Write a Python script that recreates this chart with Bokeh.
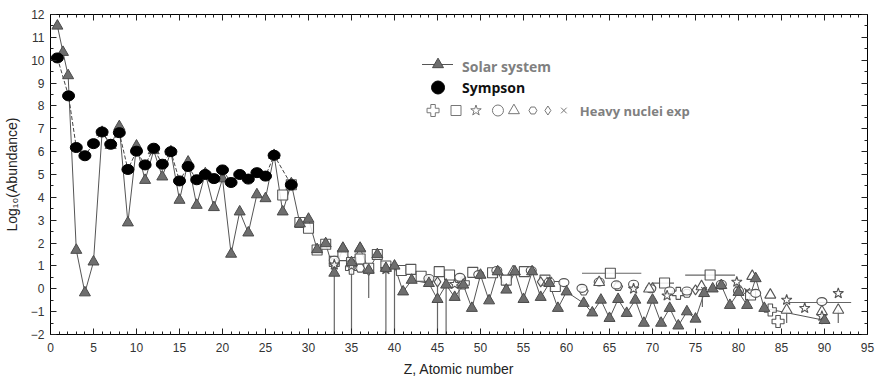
from bokeh.plotting import figure
from bokeh.models import Range1d, LinearAxis, Label, CustomJSTickFormatter, SingleIntervalTicker
from bokeh.embed import file_html
from bokeh.resources import INLINE
from bokeh.core.properties import value

# ---------------- data ----------------
solar_z = [0.8, 1.45, 2.05, 3, 4, 5, 6, 7, 8, 9, 10, 11, 12, 13, 14, 15, 16, 17, 18, 19, 20,
           21, 22, 23, 24, 25, 26, 27, 28, 29, 30, 31, 32, 33, 34, 35, 36, 37, 38, 39, 40,
           41, 42, 44, 45, 46, 47, 48, 49, 50, 51, 52, 53, 54, 55, 56, 57, 58, 59, 60,
           62, 63, 64, 65, 66, 67, 68, 69, 70, 71, 72, 73, 74, 75, 76, 77, 78, 79, 80,
           81, 82, 83, 90]
solar_v = [11.5, 10.35, 9.33, 1.69, -0.17, 1.18, 6.85, 6.28, 7.1, 2.89, 6.25, 4.75, 6.05, 4.9,
           6.0, 3.88, 5.55, 3.66, 5.04, 3.56, 4.82, 1.52, 3.37, 2.45, 4.12, 3.95, 5.84, 3.37,
           4.6, 2.85, 3.05, 1.72, 1.98, 0.69, 1.78, 1.15, 1.78, 0.82, 1.5, 0.9, 1.0,
           -0.13, 0.38, 0.24, -0.46, 0.17, -0.37, 0.17, -0.85, 0.6, -0.52, 0.75, -0.05, 0.75,
           -0.46, 0.75, -0.37, 0.24, -0.85, -0.13, -0.63, -1.05, -0.49, -1.29, -0.46, -1.07,
           -0.49, -1.5, -0.49, -1.5, -0.85, -1.62, -1.0, -1.32, -0.2, 0.0, 0.15, -0.72, -0.15,
           -0.72, 0.45, -0.85, -1.38]

sympson_z = [0.8, 2.1, 3, 4, 5, 6, 7, 8, 9, 10, 11, 12, 13, 14, 15, 16, 17, 18, 19, 20,
             21, 22, 23, 24, 25, 26, 28]
sympson_v = [10.1, 8.44, 6.18, 5.82, 6.35, 6.86, 6.32, 6.83, 5.22, 6.02, 5.42, 6.15, 5.45,
             6.0, 4.72, 5.35, 4.77, 5.0, 4.82, 5.2, 4.65, 5.0, 4.8, 5.08, 4.93, 5.84, 4.55]

hn_plus_z = [35, 48, 73, 83.7, 84.6]
hn_plus_v = [0.9, 0.25, -0.2, -0.93, -1.43]

hn_square_z = [27, 28, 29, 30, 31, 32, 33, 34, 35, 36, 37, 38, 39, 40.8, 41.9, 43.1, 45.2,
               46.4, 49.1, 51.4, 53, 55.1, 57.5, 58.7, 65.1, 71.4, 76.7, 81.4]
hn_square_v = [4.1, 4.55, 2.9, 2.65, 1.7, 1.95, 1.2, 1.45, 1.15, 1.3, 0.9, 1.5, 1.0, 0.8,
               0.85, 0.55, 0.75, 0.6, 0.72, 0.7, 0.38, 0.75, 0.38, 0.1, 0.68, 0.25, 0.6, -0.27]

hn_star_z = [33, 35, 39, 47, 67.8, 71.7, 79.8, 85.6, 87.7, 89.7, 91.6]
hn_star_v = [1.05, 1.0, 0.85, 0.2, 0.0, -0.3, 0.3, -0.49, -0.85, -1.2, -0.2]

hn_circle_z = [33, 35, 44, 47.6, 49.8, 51.9, 55.9, 58, 59.7, 61.8, 63.8, 65.8, 67.8, 69.8,
               72, 74, 78, 80, 82, 89.7]
hn_circle_v = [1.25, 1.1, 0.45, 0.5, 0.62, 0.8, 0.8, 0.3, 0.27, 0.02, 0.3, 0.17, 0.2, 0.0,
               -0.1, -0.1, 0.2, -0.1, -0.2, -0.56]

hn_tri_z = [34, 36, 53.8, 63.8, 69.6, 75.7, 81.6, 83.7, 85.6, 89.7, 91.6]
hn_tri_v = [1.75, 1.75, 0.75, 0.28, 0.0, 0.1, 0.55, -0.27, -0.93, -1.0, -0.93]

hn_hex_z = [28, 33, 36, 44, 62, 66, 74, 78, 80]
hn_hex_v = [4.5, 1.15, 0.9, 0.35, -0.1, 0.1, -0.2, 0.15, -0.05]

hn_diamond_z = [37, 45, 57, 70, 75]
hn_diamond_v = [0.8, 0.3, 0.3, 0.05, -0.05]

hn_x_z = [39.8, 58, 76, 81]
hn_x_v = [0.95, 0.4, -0.05, -0.1]

# error bars
verr_z = [33, 35, 37, 39, 40, 45, 46, 47.5, 75.8, 85.6, 89.7, 91.6]
verr_top = [0.7, 1.0, 0.8, 0.9, 0.9, 0.4, 0.3, 0.3, -0.2, -0.93, -1.0, -0.93]
verr_bot = [-2, -2, -0.4, -2, -2, -2, -2, -0.5, -0.8, -1.5, -1.55, -1.5]

herr_v = [0.68, 0.25, 0.6, -0.6]
herr_lo = [61.8, 70.0, 73.8, 85.8]
herr_hi = [68.7, 72.5, 79.6, 93.1]

# ---------------- figure ----------------
W, H = 876, 379
ML, MR, MT, MB = 49, 9, 14, 45
X0, X1, Y0, Y1 = 0, 95, -2, 12

p = figure(width=W, height=H, output_backend="svg", toolbar_location=None,
           x_range=Range1d(X0, X1), y_range=Range1d(Y0, Y1),
           min_border_left=ML, min_border_right=MR, min_border_top=MT, min_border_bottom=MB)
p.xgrid.visible = False
p.ygrid.visible = False
p.outline_line_color = "black"
p.outline_line_width = 1
p.background_fill_color = "white"
p.border_fill_color = "white"

FONT = "Liberation Sans"
TICK_COLOR = "#333333"

def style_axis(ax, labels=True):
    ax.axis_line_color = "black"
    ax.major_tick_in = 6
    ax.major_tick_out = 0
    ax.minor_tick_in = 3
    ax.minor_tick_out = 0
    ax.major_tick_line_color = "#222222"
    ax.minor_tick_line_color = "#222222"
    if labels:
        ax.major_label_text_font = FONT
        ax.major_label_text_font_size = "12px"
        ax.major_label_text_color = TICK_COLOR
    else:
        ax.formatter = CustomJSTickFormatter(code="return ''")
        ax.major_label_text_font_size = "1px"
        ax.major_label_standoff = 0

p.xaxis.ticker = SingleIntervalTicker(interval=5, num_minor_ticks=5)
p.yaxis.ticker = SingleIntervalTicker(interval=1, num_minor_ticks=2)
style_axis(p.xaxis[0])
style_axis(p.yaxis[0])
p.xaxis.major_label_standoff = 8
p.yaxis.major_label_standoff = 6
p.xaxis.axis_label = "Z, Atomic number"
p.yaxis.axis_label = "Log\u2081\u2080(Abundance)"
for ax in (p.xaxis[0], p.yaxis[0]):
    ax.axis_label_text_font = FONT
    ax.axis_label_text_font_size = "14px"
    ax.axis_label_text_font_style = "normal"
    ax.axis_label_text_color = "#222222"
p.xaxis.axis_label_standoff = 6
p.yaxis.axis_label_standoff = 8

top = LinearAxis(ticker=SingleIntervalTicker(interval=5, num_minor_ticks=5))
right = LinearAxis(ticker=SingleIntervalTicker(interval=1, num_minor_ticks=2))
style_axis(top, labels=False)
style_axis(right, labels=False)
p.add_layout(top, "above")
p.add_layout(right, "right")

GRAY_LINE = "#555555"
HN = "#555555"

# solar line
p.line(solar_z, solar_v, line_color=GRAY_LINE, line_width=1)
# sympson dashed line
p.line(sympson_z, sympson_v, line_color="#444444", line_width=1, line_dash="4 2")

# error bars
p.segment(x0=verr_z, y0=verr_top, x1=verr_z, y1=verr_bot, line_color="#666666", line_width=1.2)
p.segment(x0=herr_lo, y0=herr_v, x1=herr_hi, y1=herr_v, line_color="#666666", line_width=1.2)

# heavy nuclei (hollow markers)
hk = dict(line_color=HN, fill_color="white", fill_alpha=0.85, line_width=1.1)
p.scatter(hn_square_z, hn_square_v, marker="square", size=10, **hk)
p.scatter(hn_plus_z, hn_plus_v, marker="plus", size=12, **hk)
p.scatter(hn_hex_z, hn_hex_v, marker="hex", size=9, **hk)
p.scatter(hn_diamond_z, hn_diamond_v, marker="diamond", size=10, **hk)
p.ellipse(hn_circle_z, hn_circle_v, width=10, height=8, width_units="screen",
          height_units="screen", **hk)
p.scatter(hn_tri_z, hn_tri_v, marker="triangle", size=11, **hk)
p.scatter(hn_star_z, hn_star_v, marker="star", size=11, **hk)
p.scatter(hn_x_z, hn_x_v, marker="x", size=8, line_color=HN, line_width=1.1)

# solar triangles
p.scatter(solar_z, solar_v, marker="triangle", size=11, fill_color="#6e6e6e",
          line_color="#4a4a4a", line_width=1)
# sympson circles
p.ellipse(sympson_z, sympson_v, width=12, height=10, width_units="screen",
          height_units="screen", fill_color="black", line_color="black")

# ---------------- legend (layout positions in pixels) ----------------
FW, FH = W - ML - MR, H - MT - MB

def dx(px):
    return X0 + (px - ML) / FW * (X1 - X0)

def dy(py):
    return Y1 - (py - MT) / FH * (Y1 - Y0)

leg_line_px = (421, 452)
row_py = [64, 87, 110]
glyph_cx = 437
text_px = 461

p.line([dx(leg_line_px[0]), dx(leg_line_px[1])], [dy(row_py[0])] * 2,
       line_color=GRAY_LINE, line_width=1)
p.scatter([dx(glyph_cx)], [dy(row_py[0])], marker="triangle", size=11,
          fill_color="#6e6e6e", line_color="#4a4a4a")
p.ellipse([dx(glyph_cx)], [dy(row_py[1])], width=13, height=13, width_units="screen",
          height_units="screen", fill_color="black", line_color="black")

row3_px = [432, 455, 475, 497, 513, 532, 547, 563]
row3_marker = ["plus", "square", "star", "circle", "triangle", "hex", "diamond", "x"]
row3_size = [12, 10, 11, 11, 11, 8, 9, 8]
for px, mk, sz in zip(row3_px, row3_marker, row3_size):
    if mk == "x":
        p.scatter([dx(px)], [dy(row_py[2])], marker=mk, size=sz, line_color="#777777",
                  line_width=1)
    else:
        p.scatter([dx(px)], [dy(row_py[2])], marker=mk, size=sz, line_color="#777777",
                  fill_color="white", line_width=1)

LF = "Open Sans"
p.add_layout(Label(x=dx(text_px), y=dy(row_py[0] + 2), text="Solar system",
                   text_font=LF, text_font_size="14px", text_font_style="bold",
                   text_color="#808080", text_baseline="middle"))
p.add_layout(Label(x=dx(text_px), y=dy(row_py[1]), text="Sympson",
                   text_font=LF, text_font_size="14px", text_font_style="bold",
                   text_color="#111111", text_baseline="middle"))
p.add_layout(Label(x=dx(579), y=dy(row_py[2]), text="Heavy nuclei exp",
                   text_font=LF, text_font_size="13px", text_font_style="bold",
                   text_color="#808080", text_baseline="middle"))

open("out.html", "w").write(file_html(p, INLINE))
